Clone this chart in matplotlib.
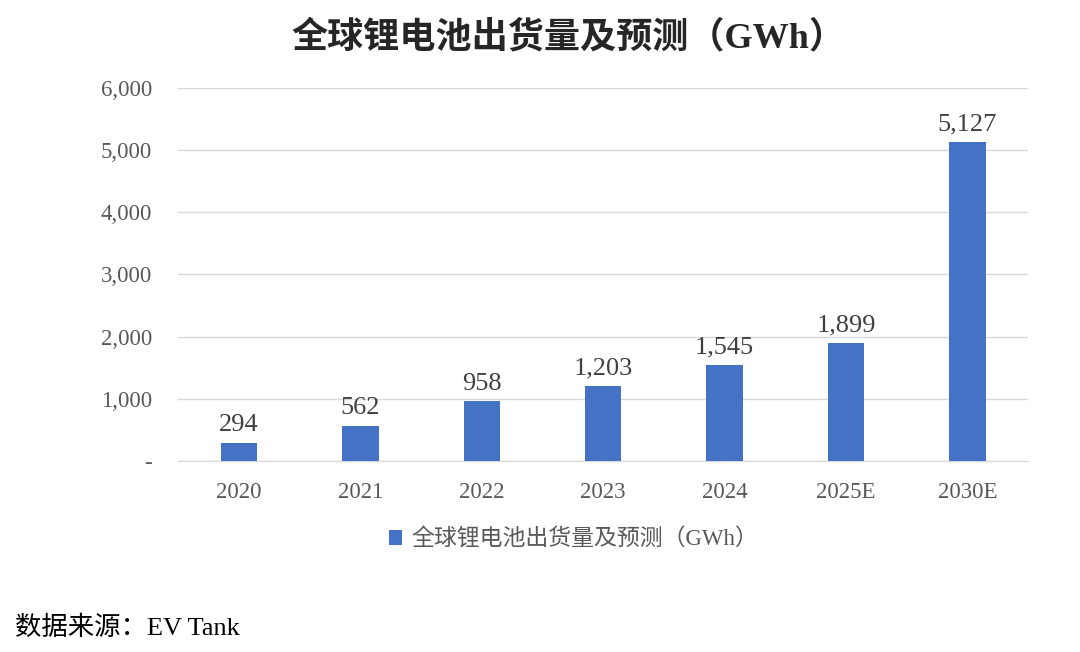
import matplotlib.pyplot as plt
from matplotlib.ticker import FuncFormatter

plt.rcParams['font.family'] = ['Liberation Serif', 'Noto Sans CJK SC']

# 数据
years = ['2020', '2021', '2022', '2023', '2024', '2025E', '2030E']
shipments = [294, 562, 958, 1203, 1545, 1899, 5127]
y_ticks = [0, 1000, 2000, 3000, 4000, 5000, 6000]

title = '全球锂电池出货量及预测（GWh）'
series_name = '全球锂电池出货量及预测（GWh）'
source = '数据来源：EV Tank'

bar_color = '#4472C4'
text_gray = '#595959'

fig = plt.figure(figsize=(10.8, 6.52), dpi=100)
ax = fig.add_axes([0.165, 0.293, 0.787, 0.572])

x = range(len(years))
ax.bar(x, shipments, width=0.3, color=bar_color, label=series_name, zorder=3)

for xi, v in zip(x, shipments):
    ax.text(xi, v + 110, f'{v:,}', ha='center', va='bottom', fontsize=19, color='#404040')

ax.set_xlim(-0.5, len(years) - 0.5)
ax.set_ylim(0, 6000)
ax.set_yticks(y_ticks)
ax.yaxis.set_major_formatter(FuncFormatter(lambda v, p: '-' if v == 0 else f'{int(v):,}'))
ax.set_xticks(list(x))
ax.set_xticklabels(years)

ax.grid(axis='y', color='#d9d9d9', linewidth=1, zorder=0)
for s in ['top', 'right', 'left']:
    ax.spines[s].set_visible(False)
ax.spines['bottom'].set_color('#d9d9d9')
ax.tick_params(axis='both', length=0, labelsize=16.5, colors=text_gray)
ax.tick_params(axis='y', pad=19)
ax.tick_params(axis='x', pad=15)

fig.text(0.526, 0.942, title, ha='center', va='center', fontsize=26,
         fontweight='bold', color='#262626')

ax.legend(loc='upper center', bbox_to_anchor=(0.465, -0.125), frameon=False,
          fontsize=16.5, handlelength=0.6, handleheight=0.6, handletextpad=0.4,
          labelcolor=text_gray)

fig.text(0.014, 0.037, source, ha='left', va='center', fontsize=19, color='black')

fig.savefig('out.png', dpi=100)
